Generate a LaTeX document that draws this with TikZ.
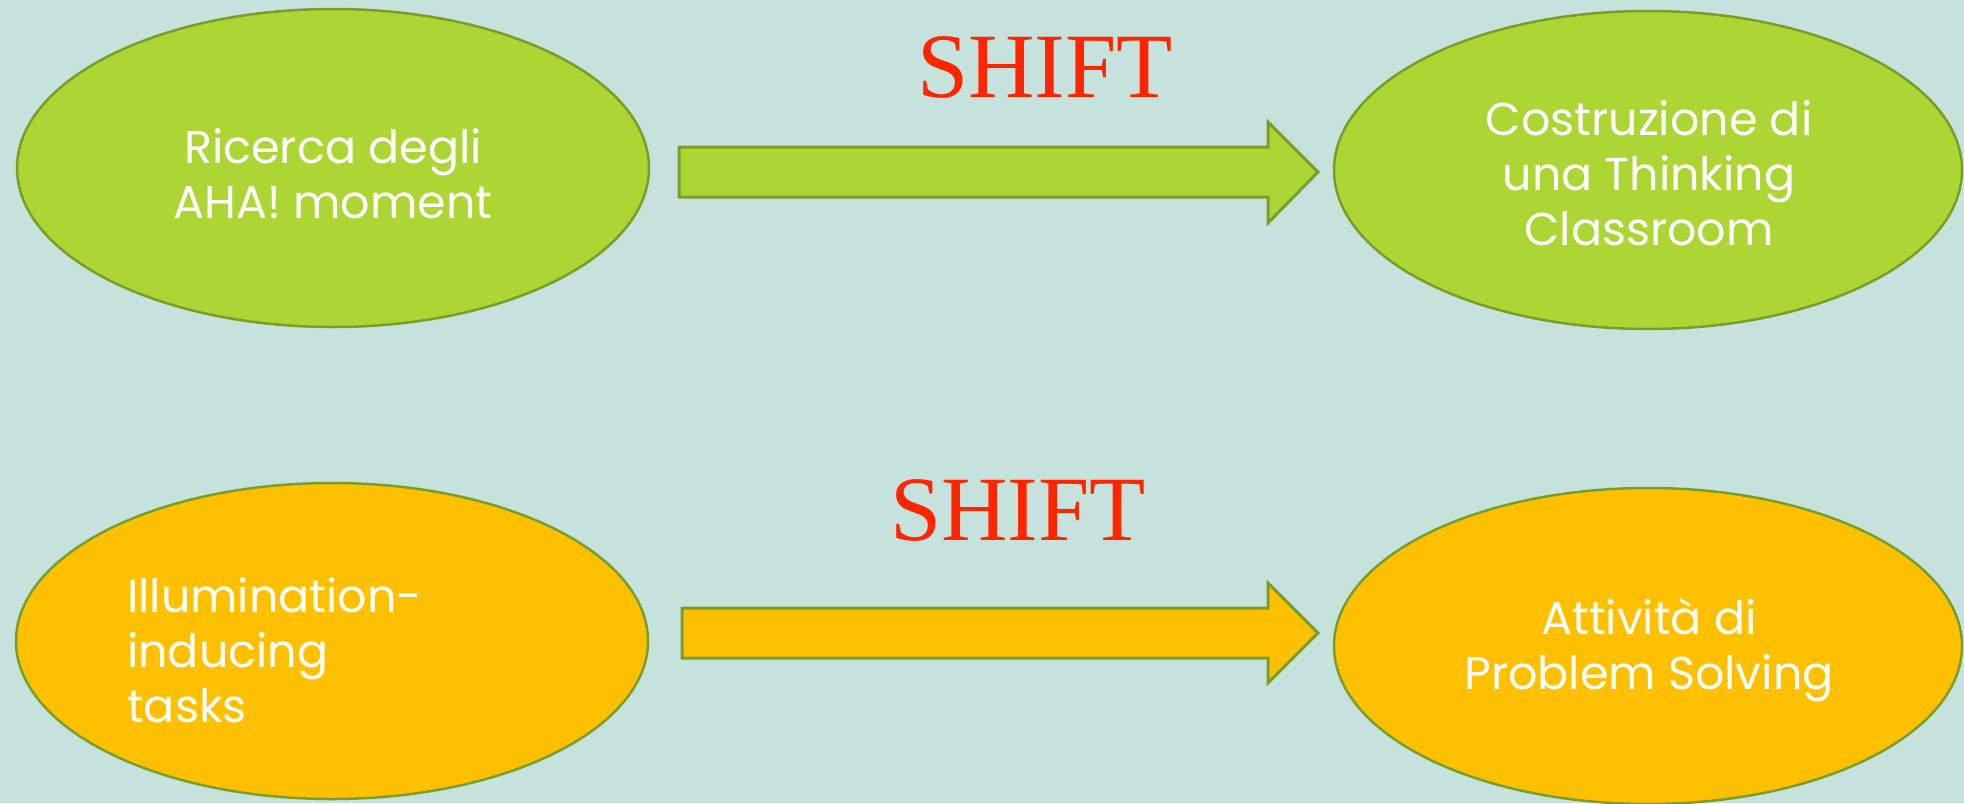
\documentclass[tikz,border=0pt]{standalone}
\usepackage{fontspec}
\setmainfont{Liberation Serif}
\newfontfamily\ellfont{Poppins}
\usetikzlibrary{shapes.geometric}
\definecolor{bgc}{HTML}{C6E2DD}
\definecolor{greenfill}{HTML}{ADD533}
\definecolor{orangefill}{HTML}{FFC000}
\definecolor{olive}{HTML}{7A9E2A}
\definecolor{shiftred}{HTML}{FF2500}
\tikzset{
  bubble/.style={ellipse, draw=olive, line width=2.5pt, inner sep=0pt,
    minimum width=632pt, minimum height=318pt},
  greenbub/.style={bubble, fill=greenfill},
  orangebub/.style={bubble, fill=orangefill},
  bubtext/.style={text=white, font=\ellfont\fontsize{46}{55}\selectfont, align=center, inner sep=0pt},
  blockarrow/.style={draw=olive, line width=3pt, line join=miter},
  shiftlabel/.style={text=shiftred, font=\fontsize{92}{100}\selectfont, inner sep=0pt}
}
\begin{document}
\begin{tikzpicture}[x=1pt,y=-1pt]
\fill[bgc] (0,0) rectangle (1964,803);
\useasboundingbox (0,0) rectangle (1964,803);

\node[greenbub] (e1) at (333,168) {};
\node[bubtext] (t1) at (333,174) {Ricerca degli\\AHA! moment};

\node[greenbub, minimum width=628pt] (e2) at (1648,170) {};
\node[bubtext] (t2) at (1649,173) {Costruzione di\\una Thinking\\Classroom};

\node[orangebub, minimum width=632pt, minimum height=316pt] (e3) at (332,641) {};
\node[bubtext, align=left, anchor=west] (t3) at (127,650) {Illumination-\\inducing\\tasks};

\node[orangebub, minimum width=628pt, minimum height=316pt] (e4) at (1648,646) {};
\node[bubtext] (t4) at (1649,650) {Attività di\\Problem Solving};

% block arrows
\draw[blockarrow, fill=greenfill]
  (679,147) -- (1268,147) -- (1268,122) -- (1318,172) -- (1268,223) -- (1268,197) -- (679,197) -- cycle;
\draw[blockarrow, fill=orangefill]
  (682,608) -- (1268,608) -- (1268,583) -- (1318,633) -- (1268,683) -- (1268,658) -- (682,658) -- cycle;

\node[shiftlabel, anchor=base] (s1) at (1045,97) {SHIFT};
\node[shiftlabel, anchor=base] (s2) at (1018,540) {SHIFT};
\end{tikzpicture}
\end{document}
